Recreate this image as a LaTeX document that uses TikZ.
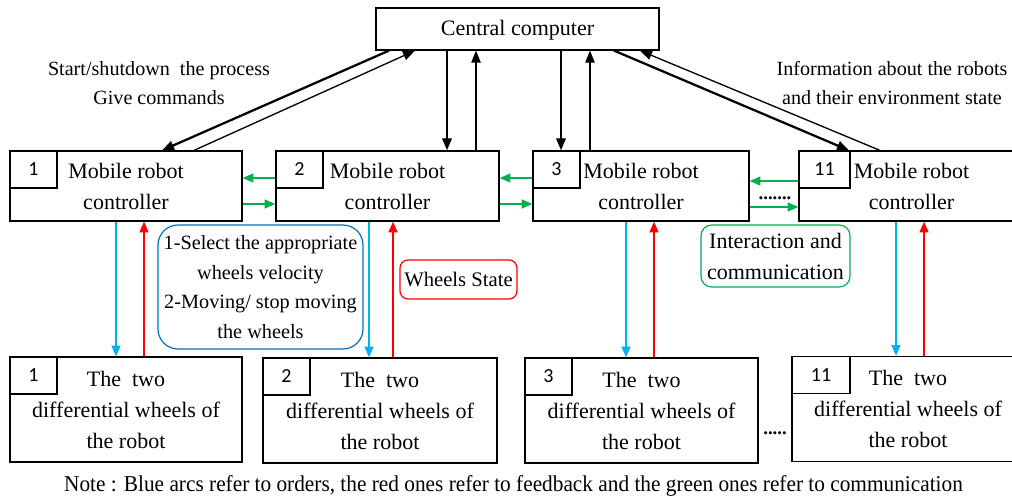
\documentclass[tikz,border=0pt]{standalone}
\usepackage{fontspec}
\setmainfont{Liberation Serif}
\newfontfamily\numfont{Carlito}
\usepackage{xcolor}
\usetikzlibrary{positioning}
\usetikzlibrary{arrows.meta}
\definecolor{orderblue}{RGB}{0,176,240}
\definecolor{boxblue}{RGB}{0,112,192}
\definecolor{commgreen}{RGB}{0,176,80}

\tikzset{
  box/.style={draw, line width=0.9pt, align=center, inner sep=0pt, font=\fontsize{16.5}{23.25}\selectfont},
  numbox/.style={draw, line width=0.9pt, anchor=north west, minimum width=35.25pt, minimum height=27.75pt, inner sep=0pt, font=\numfont\fontsize{15}{17}\selectfont},
  lbl/.style={align=center, inner sep=0pt, font=\fontsize{15.1}{21.75}\selectfont},
  tagbox/.style={draw, line width=0.9pt, align=center, inner sep=0pt, font=\fontsize{16.5}{23.25}\selectfont},
  bigarr/.style={-{Triangle[length=9pt,width=7pt]}, line width=1.7pt},
  thinarr/.style={-{Triangle[length=9pt,width=7pt]}, line width=1pt},
  order/.style={-{Triangle[length=8pt,width=6.5pt]}, line width=1.5pt, orderblue},
  feedback/.style={-{Triangle[length=8pt,width=6.5pt]}, line width=1.5pt, red},
  comm/.style={-{Triangle[length=8pt,width=6.5pt]}, line width=1.5pt, commgreen},
  dots/.style={anchor=base, inner sep=0pt, font=\bfseries\fontsize{14}{14}\selectfont}
}

\begin{document}
\begin{tikzpicture}[x=0.75pt, y=-0.75pt]
\useasboundingbox (0,0) rectangle (1012,496);
%%%%%%%%%%%%%% central computer
\node[box, minimum width=212.25pt, minimum height=31.5pt, text depth=2pt] (cc) at (517.5,29) {Central computer};
%%%%%%%%%%%%%% controllers
\node[box, minimum width=174pt, minimum height=52.5pt] (c1) at (126,186) {Mobile robot\\controller};
\node[box, minimum width=167.25pt, minimum height=52.5pt] (c2) at (387.5,186) {Mobile robot\\controller};
\node[box, minimum width=162pt, minimum height=52.5pt] (c3) at (641,186) {Mobile robot\\controller};
\node[box, minimum width=168.75pt, minimum height=52.5pt] (c11) at (911.5,186) {Mobile robot\\controller};
\node[numbox] (n1) at (c1.north west) {1};
\node[numbox] (n2) at (c2.north west) {2};
\node[numbox] (n3) at (c3.north west) {3};
\node[numbox, minimum width=38.25pt] (n11) at (c11.north west) {11};
%%%%%%%%%%%%%% wheels
\node[box, minimum width=174pt, minimum height=78.75pt] (w1) at (126,409.5) {The\ \ two\\differential wheels of\\the robot};
\node[box, minimum width=175.5pt, minimum height=78.75pt] (w2) at (380,410.5) {The\ \ two\\differential wheels of\\the robot};
\node[box, minimum width=174.75pt, minimum height=78.75pt] (w3) at (641.5,410.5) {The\ \ two\\differential wheels of\\the robot};
\node[box, minimum width=174pt, minimum height=78.75pt] (w11) at (908,409) {The\ \ two\\differential wheels of\\the robot};
\node[numbox] (m1) at (w1.north west) {1};
\node[numbox] (m2) at (w2.north west) {2};
\node[numbox] (m3) at (w3.north west) {3};
\node[numbox, minimum width=43.5pt] (m11) at (w11.north west) {11};
%%%%%%%%%%%%%% labels
\node[lbl] (startlbl) at (159,83) {Start/shutdown\ \ the process\\Give commands};
\node[lbl] (infolbl) at (892,83) {Information about the robots\\and their environment state};
\node[tagbox, boxblue, text=black, rounded corners=15pt, minimum width=153.75pt, minimum height=93pt, font=\fontsize{15.2}{22.3}\selectfont] (ordtag) at (260.5,287) {1-Select the appropriate\\wheels velocity\\2-Moving/ stop moving\\the wheels};
\node[tagbox, red, text=black, rounded corners=6pt, minimum width=87.75pt, minimum height=29.25pt, font=\fontsize{15.5}{20}\selectfont] (fbtag) at (458.5,279.5) {Wheels State};
\node[tagbox, commgreen, text=black, rounded corners=8pt, minimum width=111.75pt, minimum height=46.5pt] (commtag) at (775.5,256) {Interaction and\\communication};
\node[dots] (dotsup) at (775,199) {.......};
\node[dots] (dotslow) at (775,434) {.....};
\node[inner sep=0pt, font=\fontsize{17}{17}\selectfont, xscale=0.94] (note) at (513.5,486) {Note : Blue arcs refer to orders, the red ones refer to feedback and the green ones refer to communication};

%%%%%%%%%%%%%% central <-> controllers
\draw[bigarr] (cc.south -| 389,0) -- (c1.north -| 162,0);
\draw[thinarr] (c1.north -| 194,0) -- (cc.south -| 415,0);
\draw[bigarr] (cc.south -| 447,0) -- (c2.north -| 447,0);
\draw[thinarr] (c2.north -| 476,0) -- (cc.south -| 476,0);
\draw[bigarr] (cc.south -| 561,0) -- (c3.north -| 561,0);
\draw[thinarr] (c3.north -| 590,0) -- (cc.south -| 590,0);
\draw[bigarr] (cc.south -| 614,0) -- (c11.north -| 849,0);
\draw[thinarr] (c11.north -| 880,0) -- (cc.south -| 640,0);
%%%%%%%%%%%%%% communication
\draw[comm] (c2.west |- 0,178) -- (c1.east |- 0,178);
\draw[comm] (c1.east |- 0,204) -- (c2.west |- 0,204);
\draw[comm] (c3.west |- 0,178) -- (c2.east |- 0,178);
\draw[comm] (c2.east |- 0,204) -- (c3.west |- 0,204);
\draw[comm] (c11.west |- 0,181) -- (c3.east |- 0,181);
\draw[comm] (c3.east |- 0,207) -- (c11.west |- 0,207);
%%%%%%%%%%%%%% orders and feedback
\draw[order] (c1.south -| 116,0) -- (w1.north -| 116,0);
\draw[feedback] (w1.north -| 144,0) -- (c1.south -| 144,0);
\draw[order] (c2.south -| 369,0) -- (w2.north -| 369,0);
\draw[feedback] (w2.north -| 393,0) -- (c2.south -| 393,0);
\draw[order] (c3.south -| 626,0) -- (w3.north -| 626,0);
\draw[feedback] (w3.north -| 654,0) -- (c3.south -| 654,0);
\draw[order] (c11.south -| 896,0) -- (w11.north -| 896,0);
\draw[feedback] (w11.north -| 924,0) -- (c11.south -| 924,0);
\end{tikzpicture}
\end{document}
